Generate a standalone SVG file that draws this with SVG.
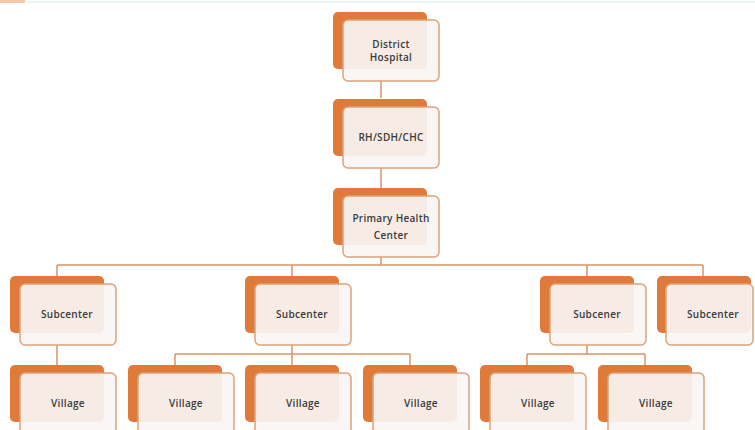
<svg xmlns="http://www.w3.org/2000/svg" width="755" height="430" viewBox="0 0 755 430">
<style>
.back{fill:#e07a3a}
.front{fill:#f8f5f4;fill-opacity:0.92;stroke:#dba27b;stroke-width:1.5}
.lbl{font-family:"Open Sans","DejaVu Sans",sans-serif;font-weight:600;font-size:10px;fill:#3a3a3a;text-anchor:middle;letter-spacing:0.3px}
.con{stroke:#d9946a;stroke-width:1.5;fill:none}
</style>
<defs>
<g id="node">
<rect class="back" x="0" y="0" width="94" height="57" rx="5"/>
<rect class="front" x="10" y="8" width="96" height="61" rx="5"/>
</g>
</defs>
<rect width="755" height="430" fill="#ffffff"/>
<line x1="27" y1="2" x2="755" y2="2" stroke="#dff0f3" stroke-width="1.5"/>
<rect x="0" y="0" width="25" height="3" fill="#f3c9a9"/>
<g id="connectors" class="con">
<path d="M381 80V98M381 167V188M381 255V265M57 265H703M57 265V276M292 265V276M587 265V276M703 265V276"/>
<path d="M57 345V365M292 345V354M175 354H410M175 354V365M292 354V365M410 354V365"/>
<path d="M587 345V354M527 354H645M527 354V365M645 354V365"/>
</g>
<g id="district"><use href="#node" x="333" y="12"/><text class="lbl" x="391" y="48">District</text><text class="lbl" x="391" y="61">Hospital</text></g>
<g id="rh"><use href="#node" x="333" y="99"/><text class="lbl" x="391" y="141">RH/SDH/CHC</text></g>
<g id="phc"><use href="#node" x="333" y="188"/><text class="lbl" x="391" y="222">Primary Health</text><text class="lbl" x="391" y="239">Center</text></g>
<g id="sub1"><use href="#node" x="10" y="276"/><text class="lbl" x="67" y="318">Subcenter</text></g>
<g id="sub2"><use href="#node" x="245" y="276"/><text class="lbl" x="302" y="318">Subcenter</text></g>
<g id="sub3"><use href="#node" x="540" y="276"/><text class="lbl" x="597" y="318">Subcener</text></g>
<g id="sub4"><rect class="back" x="657" y="276" width="94" height="57" rx="5"/><rect class="front" x="666" y="284" width="87" height="61" rx="5"/><text class="lbl" x="713" y="318">Subcenter</text></g>
<g id="v1"><use href="#node" x="10" y="365"/><text class="lbl" x="68" y="407">Village</text></g>
<g id="v2"><use href="#node" x="128" y="365"/><text class="lbl" x="186" y="407">Village</text></g>
<g id="v3"><use href="#node" x="245" y="365"/><text class="lbl" x="303" y="407">Village</text></g>
<g id="v4"><use href="#node" x="363" y="365"/><text class="lbl" x="421" y="407">Village</text></g>
<g id="v5"><use href="#node" x="480" y="365"/><text class="lbl" x="538" y="407">Village</text></g>
<g id="v6"><use href="#node" x="598" y="365"/><text class="lbl" x="656" y="407">Village</text></g>
</svg>
